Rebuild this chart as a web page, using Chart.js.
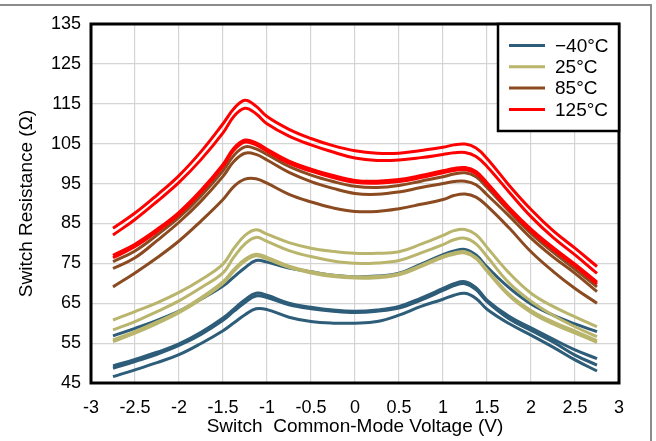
<!DOCTYPE html>
<html>
<head>
<meta charset="utf-8">
<script src="https://cdn.jsdelivr.net/npm/chart.js@4"></script>
<style>
  html, body { margin: 0; padding: 0; background: #fff; }
  #wrap { position: relative; width: 656px; height: 441px; }
</style>
</head>
<body>
<div id="wrap"><canvas id="c" width="656" height="441"></canvas></div>
<script>
// ---- data ----
const voltage = [-2.75, -2.5, -2.25, -2, -1.75, -1.5, -1.375, -1.25, -1.125, -1, -0.75, -0.5, -0.25, 0, 0.25, 0.5, 0.75, 1, 1.125, 1.25, 1.375, 1.5, 1.75, 2, 2.25, 2.5, 2.75];
const xTicks = [-3, -2.5, -2, -1.5, -1, -0.5, 0, 0.5, 1, 1.5, 2, 2.5, 3];
const yTicks = [45, 55, 65, 75, 85, 95, 105, 115, 125, 135];
const tempLabels = ['\u221240\u00B0C', '25\u00B0C', '85\u00B0C', '125\u00B0C'];

const r125_a = [83.8, 87.6, 92.1, 97.0, 103.0, 110.0, 113.8, 115.9, 114.4, 111.8, 108.6, 106.3, 104.5, 103.2, 102.6, 102.6, 103.3, 104.1, 104.7, 104.9, 103.9, 101.3, 94.6, 88.5, 83.2, 78.8, 74.2];
const r125_b = [82.1, 86.0, 90.5, 95.3, 101.0, 107.7, 111.9, 113.9, 112.5, 110.0, 106.9, 104.7, 102.9, 101.4, 100.8, 100.9, 101.5, 102.3, 102.7, 102.8, 101.8, 99.3, 92.9, 86.7, 81.5, 77.1, 72.5];
const r125_c = [77.0, 79.8, 83.5, 87.8, 93.3, 99.8, 103.9, 105.9, 105.2, 103.6, 100.6, 98.6, 97.0, 95.8, 95.6, 96.0, 97.0, 98.2, 98.8, 99.0, 98.0, 95.2, 89.0, 83.6, 79.0, 74.8, 70.3];
const r125_d = [76.4, 79.2, 83.0, 87.3, 92.8, 99.3, 103.4, 105.4, 104.7, 103.1, 100.1, 98.1, 96.5, 95.3, 95.1, 95.5, 96.5, 97.7, 98.3, 98.5, 97.5, 94.7, 88.5, 83.1, 78.5, 74.3, 69.8];

const r85_a = [75.4, 78.1, 82.1, 86.5, 91.9, 98.2, 102.1, 104.2, 103.7, 102.3, 99.3, 97.1, 95.5, 94.3, 94.0, 94.5, 95.6, 96.7, 97.4, 97.7, 96.7, 94.0, 88.1, 82.5, 77.8, 73.5, 69.1];
const r85_b = [73.7, 76.4, 80.7, 85.3, 90.6, 96.8, 100.6, 102.6, 102.3, 100.9, 97.8, 95.5, 93.8, 92.5, 92.3, 92.9, 94.0, 95.0, 95.5, 95.6, 94.7, 92.2, 86.9, 81.3, 76.6, 72.5, 67.9];
const r85_c = [69.1, 72.6, 76.4, 80.6, 85.6, 91.0, 94.3, 96.1, 96.2, 95.1, 92.3, 90.4, 88.9, 88.0, 88.0, 88.7, 89.8, 91.0, 92.0, 92.4, 91.6, 89.4, 83.9, 77.9, 73.0, 68.7, 65.0];

const r25_a = [60.8, 62.9, 65.1, 67.7, 70.9, 74.8, 78.8, 82.0, 83.4, 82.3, 80.2, 78.8, 78.0, 77.5, 77.5, 77.9, 79.8, 82.0, 83.2, 83.5, 82.2, 79.0, 72.6, 67.5, 64.2, 61.6, 59.1];
const r25_b = [58.3, 60.4, 62.9, 65.6, 68.9, 72.6, 76.6, 79.9, 81.5, 80.5, 78.2, 76.7, 75.6, 75.0, 75.1, 75.7, 77.6, 79.7, 80.9, 81.3, 79.9, 76.7, 70.1, 65.5, 62.0, 59.1, 56.6];
const r25_c = [55.8, 57.9, 60.3, 63.0, 66.4, 70.4, 73.5, 76.0, 77.3, 76.5, 74.3, 72.9, 72.0, 71.6, 71.7, 72.4, 74.5, 76.8, 77.6, 77.9, 76.5, 73.4, 67.3, 63.2, 60.3, 58.0, 55.6];
const r25_d = [55.4, 57.5, 59.9, 62.6, 66.0, 70.0, 73.1, 75.6, 76.9, 76.1, 74.0, 72.6, 71.7, 71.3, 71.4, 72.1, 74.2, 76.5, 77.3, 77.6, 76.2, 73.0, 66.9, 62.7, 59.8, 57.5, 55.2];

const rM40_a = [56.8, 58.7, 60.7, 63.0, 66.0, 69.3, 71.6, 73.9, 75.7, 75.3, 73.8, 72.9, 72.0, 71.6, 71.8, 72.5, 74.8, 77.2, 78.1, 78.5, 77.1, 74.1, 68.9, 64.8, 62.0, 59.8, 57.9];
const rM40_b = [49.3, 50.9, 52.7, 54.8, 57.7, 61.3, 63.6, 65.9, 67.5, 67.0, 65.0, 64.0, 63.3, 63.0, 63.3, 64.2, 66.3, 68.7, 69.9, 70.4, 68.9, 65.8, 61.7, 58.8, 56.0, 53.3, 51.1];
const rM40_c = [48.7, 50.4, 52.2, 54.4, 57.2, 60.7, 63.0, 65.2, 66.8, 66.4, 64.6, 63.6, 63.0, 62.7, 63.0, 63.8, 65.8, 68.2, 69.4, 69.9, 68.4, 65.4, 61.1, 58.2, 55.3, 52.0, 49.5];
const rM40_d = [46.6, 48.3, 50.1, 52.1, 54.9, 58.1, 60.1, 62.1, 63.6, 63.4, 61.5, 60.4, 60.0, 60.0, 60.4, 62.0, 64.2, 66.0, 67.0, 67.5, 66.2, 63.5, 59.9, 57.0, 54.0, 50.8, 48.0];

// ---- styles ----
const tempColors = ['#2d5d79', '#b9b56d', '#8b4a20', '#ff0000'];
const FONT = "'Liberation Sans', Arial, sans-serif";

// groups: [temperature index, series]
const groups = [
  [3, [r125_a, r125_b, r125_c, r125_d]],
  [2, [r85_a, r85_b, r85_c]],
  [1, [r25_a, r25_b, r25_c, r25_d]],
  [0, [rM40_a, rM40_b, rM40_c, rM40_d]]
];

const datasets = [];
groups.forEach(([ti, list]) => {
  list.forEach((arr) => {
    datasets.push({
      label: tempLabels[ti],
      data: voltage.map((v, i) => ({ x: v, y: arr[i] })),
      borderColor: tempColors[ti],
      backgroundColor: tempColors[ti],
      borderWidth: 3,
      pointRadius: 0,
      showLine: true,
      fill: false,
      tension: 0.4,
      borderJoinStyle: 'round',
      borderCapStyle: 'butt'
    });
  });
});

const framePlugin = {
  id: 'frame',
  beforeDraw(chart) {
    const ctx = chart.ctx;
    ctx.save();
    ctx.fillStyle = '#fff';
    ctx.fillRect(0, 0, chart.width, chart.height);
    ctx.strokeStyle = '#8c8c8c';
    ctx.lineWidth = 2;
    ctx.beginPath();
    ctx.moveTo(0, 5);
    ctx.lineTo(651, 5);
    ctx.lineTo(651, chart.height);
    ctx.stroke();
    ctx.restore();
  },
  afterDraw(chart) {
    const ctx = chart.ctx;
    const a = chart.chartArea;
    ctx.save();
    ctx.strokeStyle = '#000';
    ctx.lineWidth = 3;
    ctx.strokeRect(a.left, a.top, a.right - a.left, a.bottom - a.top);
    // legend
    const w = 121, h = 107;
    const lx = a.right - w, ly = a.top;
    ctx.fillStyle = '#fff';
    ctx.fillRect(lx, ly, w, h);
    ctx.lineWidth = 2.5;
    ctx.strokeRect(lx, ly, w, h);
    ctx.font = '19px ' + FONT;
    ctx.textBaseline = 'middle';
    ctx.textAlign = 'left';
    tempLabels.forEach((t, i) => {
      const y = ly + 21.5 + i * 21.3;
      ctx.strokeStyle = tempColors[i];
      ctx.lineWidth = 3;
      ctx.beginPath();
      ctx.moveTo(lx + 11, y);
      ctx.lineTo(lx + 47, y);
      ctx.stroke();
      ctx.fillStyle = '#000';
      ctx.fillText(t, lx + 57, y + 1);
    });
    ctx.restore();
  }
};

new Chart(document.getElementById('c'), {
  type: 'scatter',
  data: { datasets },
  plugins: [framePlugin],
  options: {
    responsive: false,
    animation: false,
    devicePixelRatio: 1,
    layout: { padding: { left: 0, top: 24, right: 37, bottom: 0 } },
    plugins: { legend: { display: false }, tooltip: { enabled: false } },
    scales: {
      x: {
        type: 'linear',
        min: -3, max: 3,
        afterBuildTicks(scale) { scale.ticks = xTicks.map(v => ({ value: v })); },
        afterFit(scale) { scale.height = 58; },
        grid: { color: '#d4d4d4', lineWidth: 1.2, drawTicks: false },
        border: { display: false },
        ticks: {
          padding: 14,
          color: '#000',
          font: { family: FONT, size: 18 },
          callback: v => String(v)
        },
        title: {
          display: true,
          text: 'Switch  Common-Mode Voltage (V)',
          color: '#000',
          font: { family: FONT, size: 19 },
          padding: { top: 0, bottom: 3 }
        }
      },
      y: {
        type: 'linear',
        min: 45, max: 135,
        afterBuildTicks(scale) { scale.ticks = yTicks.map(v => ({ value: v })); },
        afterFit(scale) { scale.width = 91; },
        grid: { color: '#d4d4d4', lineWidth: 1.2, drawTicks: false },
        border: { display: false },
        ticks: {
          padding: 10,
          color: '#000',
          font: { family: FONT, size: 18 },
          callback: v => String(v)
        },
        title: {
          display: true,
          text: 'Switch Resistance (\u03A9)',
          color: '#000',
          font: { family: FONT, size: 19 },
          padding: { top: 15, bottom: 0 }
        }
      }
    }
  }
});
</script>
</body>
</html>
